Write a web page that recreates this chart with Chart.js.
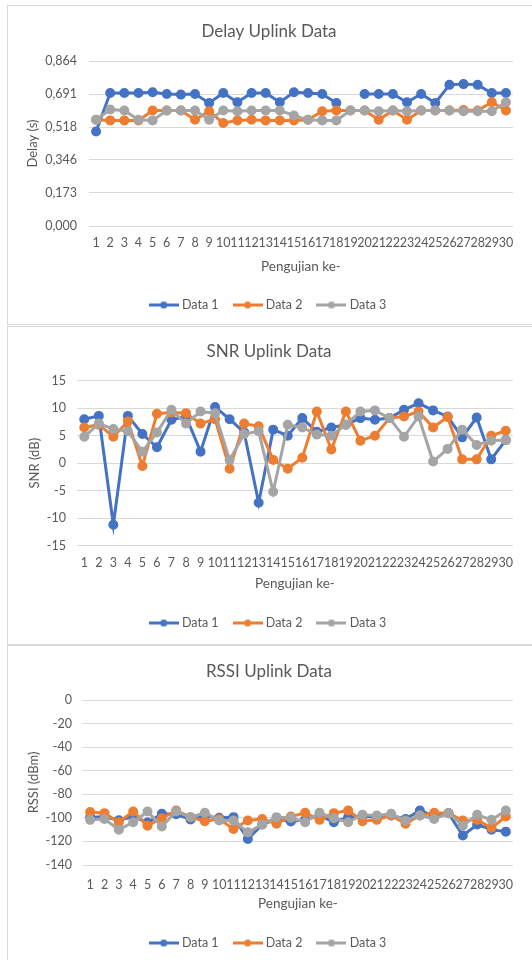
<!DOCTYPE html>
<html>
<head>
<meta charset="utf-8">
<script src="https://cdn.jsdelivr.net/npm/chart.js@4.4.1/dist/chart.umd.min.js"></script>
<style>
  body { margin: 0; background: #fff; width: 532px; height: 960px; overflow: hidden; position: relative; }
  .panel { position: absolute; left: 7px; width: 530px; border: 1px solid #d9d9d9; box-sizing: border-box; background: #fff; overflow: hidden; }
  .panel canvas { display: block; }
</style>
</head>
<body>
<div class="panel" style="top:5px;height:320px"><canvas id="delayChart" width="528" height="318"></canvas></div>
<div class="panel" style="top:326px;height:319px"><canvas id="snrChart" width="528" height="317"></canvas></div>
<div class="panel" style="top:645px;height:317px"><canvas id="rssiChart" width="528" height="315"></canvas></div>
<script>
const pengujian = ['1','2','3','4','5','6','7','8','9','10','11','12','13','14','15',
  '16','17','18','19','20','21','22','23','24','25','26','27','28','29','30'];
const seriesNames = ['Data 1', 'Data 2', 'Data 3'];
const seriesColors = ['#4472C4', '#ED7D31', '#A5A5A5'];

// Delay (s)
const delayData1 = [0.495, 0.696, 0.696, 0.696, 0.700, 0.691, 0.688, 0.691, 0.644, 0.696,
  0.648, 0.696, 0.696, 0.648, 0.700, 0.696, 0.691, 0.644, null, 0.691,
  0.691, 0.691, 0.648, 0.691, 0.644, 0.739, 0.743, 0.739, 0.696, 0.696];
const delayData2 = [0.556, 0.553, 0.553, 0.553, 0.605, 0.605, 0.605, 0.556, 0.601, 0.539,
  0.553, 0.556, 0.553, 0.553, 0.553, 0.556, 0.601, 0.605, 0.605, 0.605,
  0.556, 0.605, 0.556, 0.605, 0.605, 0.605, 0.608, 0.605, 0.648, 0.605];
const delayData3 = [0.556, 0.610, 0.605, 0.556, 0.553, 0.605, 0.605, 0.605, 0.556, 0.605,
  0.601, 0.605, 0.605, 0.605, 0.579, 0.556, 0.553, 0.553, 0.605, 0.605,
  0.601, 0.605, 0.601, 0.605, 0.605, 0.605, 0.601, 0.601, 0.601, 0.648];
const delayTicks = [0, 0.173, 0.346, 0.518, 0.691, 0.864];

// SNR (dB)
const snrData1 = [8.0, 8.6, -11.2, 8.6, 5.3, 2.9, 7.9, 8.5, 2.1, 10.2,
  8.0, 5.6, -7.2, 6.1, 5.0, 8.2, 5.7, 6.5, 7.0, 8.2,
  7.9, 8.2, 9.7, 10.9, 9.6, 8.5, 4.7, 8.3, 0.7, 4.2];
const snrData2 = [6.5, 7.0, 4.8, 7.6, -0.5, 9.0, 9.2, 9.1, 7.2, 8.0,
  -1.0, 7.2, 6.7, 0.6, -1.0, 1.0, 9.4, 2.5, 9.4, 4.1,
  5.0, 8.2, 8.5, 9.4, 6.5, 8.4, 0.7, 0.7, 5.0, 5.9];
const snrData3 = [4.8, 7.2, 6.2, 5.8, 2.1, 5.6, 9.7, 7.2, 9.4, 9.1,
  0.6, 5.3, 5.8, -5.2, 7.0, 6.5, 5.2, 5.0, 7.0, 9.4,
  9.6, 8.2, 4.8, 8.5, 0.3, 2.6, 6.1, 3.3, 4.1, 4.2];
const snrTicks = [-15, -10, -5, 0, 5, 10, 15];

// RSSI (dBm)
const rssiData1 = [-99.4, -99.0, -102.0, -99.0, -104.0, -96.6, -97.0, -101.4, -98.6, -100.0,
  -99.4, -118.0, -105.7, -101.0, -103.0, -101.7, -98.0, -103.7, -99.4, -98.6,
  -99.4, -98.0, -101.0, -93.7, -98.6, -96.0, -115.0, -105.7, -110.0, -111.7];
const rssiData2 = [-95.0, -96.0, -103.7, -94.6, -106.6, -100.3, -93.7, -99.4, -102.9, -101.0,
  -109.4, -102.3, -101.0, -105.0, -98.9, -95.7, -101.7, -96.0, -93.7, -102.9,
  -101.7, -98.0, -105.0, -98.0, -95.7, -96.0, -102.3, -101.7, -108.6, -98.9];
const rssiData3 = [-101.7, -101.0, -110.0, -103.7, -94.6, -107.4, -94.6, -99.4, -95.7, -102.3,
  -102.3, -112.3, -105.7, -99.4, -100.0, -103.7, -95.7, -100.3, -103.7, -97.4,
  -98.0, -96.6, -102.3, -98.0, -101.0, -96.0, -106.6, -97.4, -101.7, -93.7];
const rssiTicks = [-140, -120, -100, -80, -60, -40, -20, 0];

const fontFamily = 'Lato, "Open Sans", sans-serif';
const textColor = '#595959';
const gridColor = '#d9d9d9';
const padLeft = 17;
const padRight = 23;
const legendPad = 17;
const tickSize = 12.5;
const axisTitleSize = 13;

// small line+dot marker for the legend
function legendMarker(color) {
  const c = document.createElement('canvas');
  c.width = 30;
  c.height = 9;
  const g = c.getContext('2d');
  g.strokeStyle = color;
  g.lineWidth = 3;
  g.beginPath();
  g.moveTo(0, 4.5);
  g.lineTo(30, 4.5);
  g.stroke();
  g.fillStyle = color;
  g.beginPath();
  g.arc(15, 4.5, 3.5, 0, Math.PI * 2);
  g.fill();
  return c;
}
const markers = seriesColors.map(legendMarker);

function makeChart(id, title, yTitle, series, ticks, fmt, box) {
  const legendFont = 12.5;
  const legendTop = box.legend - legendPad - legendFont / 2;
  const datasets = series.map((d, i) => ({
    label: seriesNames[i],
    data: d,
    borderColor: seriesColors[i],
    backgroundColor: seriesColors[i],
    pointBackgroundColor: seriesColors[i],
    pointBorderColor: seriesColors[i],
    borderWidth: 3,
    pointRadius: 3.5,
    tension: 0,
    order: 3 - i
  }));
  return new Chart(document.getElementById(id), {
    type: 'line',
    data: { labels: pengujian, datasets: datasets },
    options: {
      responsive: false,
      animation: false,
      layout: { padding: { left: padLeft, right: padRight, top: 0, bottom: box.h - legendTop - legendPad - legendFont - 10 } },
      plugins: {
        tooltip: { enabled: false },
        title: {
          display: true,
          text: title,
          color: textColor,
          font: { family: fontFamily, size: 17, weight: 'normal' },
          padding: { top: box.title - 10.2, bottom: box.top - box.title - 10.2 }
        },
        legend: {
          position: 'bottom',
          labels: {
            usePointStyle: true,
            pointStyleWidth: 24,
            padding: legendPad,
            color: textColor,
            font: { family: fontFamily, size: legendFont },
            sort: (a, b) => a.datasetIndex - b.datasetIndex,
            generateLabels(chart) {
              const items = Chart.defaults.plugins.legend.labels.generateLabels(chart);
              items.forEach(it => { it.pointStyle = markers[it.datasetIndex]; });
              return items;
            }
          }
        }
      },
      scales: {
        x: {
          offset: true,
          grid: { display: false, drawTicks: false },
          border: { display: false },
          ticks: {
            autoSkip: false, maxRotation: 0, minRotation: 0,
            padding: box.xTick - box.bottom - tickSize * 0.6,
            color: textColor,
            font: { family: fontFamily, size: tickSize }
          },
          title: {
            display: true,
            text: 'Pengujian ke-',
            color: textColor,
            font: { family: fontFamily, size: 13.5 },
            padding: { top: 0, bottom: legendTop - box.xTitle - 13.5 * 0.6 }
          },
          afterFit(scale) { scale.height = legendTop - box.bottom; }
        },
        y: {
          min: ticks[0],
          max: ticks[ticks.length - 1],
          grid: { color: gridColor, lineWidth: 1, drawTicks: false },
          border: { display: false },
          afterBuildTicks(scale) { scale.ticks = ticks.map(v => ({ value: v })); },
          ticks: {
            padding: box.yPad,
            color: textColor,
            font: { family: fontFamily, size: tickSize },
            callback: fmt
          },
          title: {
            display: true,
            text: yTitle,
            color: textColor,
            font: { family: fontFamily, size: axisTitleSize },
            padding: { top: Math.max(0, box.yTitle - padLeft - axisTitleSize * 0.6), bottom: 0 }
          },
          afterFit(scale) { scale.width = box.left - padLeft; }
        }
      }
    }
  });
}

makeChart('delayChart', 'Delay Uplink Data', 'Delay (s)',
  [delayData1, delayData2, delayData3], delayTicks,
  v => v.toFixed(3).replace('.', ','),
  { h: 318, top: 55, bottom: 220, left: 81, title: 26, xTick: 237, xTitle: 261, legend: 299, yTitle: 24, yPad: 12 });

makeChart('snrChart', 'SNR Uplink Data', 'SNR (dB)',
  [snrData1, snrData2, snrData3], snrTicks,
  v => String(v),
  { h: 317, top: 53.7, bottom: 218.7, left: 69, title: 25, xTick: 236, xTitle: 257, legend: 296, yTitle: 27, yPad: 11 });

makeChart('rssiChart', 'RSSI Uplink Data', 'RSSI (dBm)',
  [rssiData1, rssiData2, rssiData3], rssiTicks,
  v => String(v),
  { h: 315, top: 54, bottom: 219, left: 75, title: 26, xTick: 239, xTitle: 258, legend: 297, yTitle: 26, yPad: 11 });
</script>
</body>
</html>
